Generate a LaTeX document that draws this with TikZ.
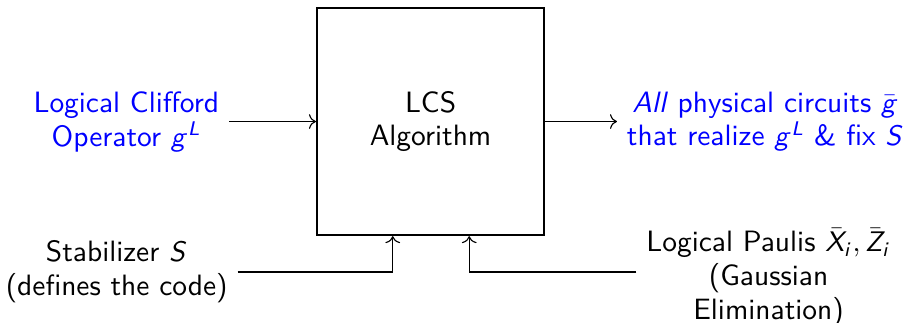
\documentclass[tikz,border=0pt]{standalone}
\usetikzlibrary{arrows.meta, positioning, calc}
\renewcommand{\familydefault}{\sfdefault}
% sans serif letters in math, as on slides
\DeclareSymbolFont{letters}{OT1}{cmss}{m}{sl}
\mathcode`\,="602C
\definecolor{inkblue}{HTML}{0000FF}
\definecolor{inkline}{HTML}{000000}
\newcommand{\iolabel}[4]{%
  \node[align=center, text=#4] (#1) at (#2) {#3};}

\begin{document}
\begin{tikzpicture}[font=\fontsize{10.4}{12}\selectfont]
      \useasboundingbox (0,0) rectangle (11.27,4.01);
      \node[draw, line width=0.8pt, minimum size=2.82cm, align=center] (lcs) at (5.35,2.50)
        {LCS\\Algorithm};
      \iolabel{gin}{1.57,2.50}{Logical Clifford\\Operator $g^L$}{inkblue}
      \iolabel{gout}{9.51,2.50}{\textit{All} physical circuits $\bar g$\\
        that realize $g^L$ \& fix $S$}{inkblue}
      \iolabel{stab}{1.45,0.63}{Stabilizer $S$\\(defines the code)}{black}
      \iolabel{paulis}{9.55,0.56}{Logical Paulis $\bar X_i, \bar Z_i$\\(Gaussian\\Elimination)}{black}
      \draw[-{To}, inkline, line width=0.4pt] (gin) -- (lcs);
      \draw[-{To}, inkline, line width=0.4pt] (lcs) -- (gout);
      \draw[-{To}, inkline, line width=0.4pt] (stab.east) -| ([xshift=-0.47cm]lcs.south);
      \draw[-{To}, inkline, line width=0.4pt] ([yshift=0.07cm]paulis.west) -| ([xshift=0.48cm]lcs.south);
    \end{tikzpicture}
\end{document}
